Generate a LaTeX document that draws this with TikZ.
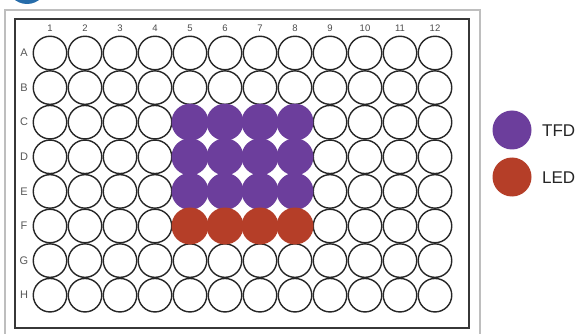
\documentclass[tikz,border=0pt]{standalone}
\usepackage{fontspec}
\setmainfont{Liberation Sans}
\definecolor{tfd}{RGB}{108,62,156}
\definecolor{led}{RGB}{181,62,40}
\definecolor{tabblue}{RGB}{38,108,170}
\definecolor{framegray}{RGB}{190,190,190}
\definecolor{darkframe}{RGB}{55,55,55}
\begin{document}
\begin{tikzpicture}[x=1pt,y=-1pt,
  well/.style={circle,draw=black!85,line width=1.4pt,minimum size=33.5pt,inner sep=0pt},
  tfdwell/.style={circle,fill=tfd,minimum size=37pt,inner sep=0pt},
  ledwell/.style={circle,fill=led,minimum size=37pt,inner sep=0pt},
  clbl/.style={font=\fontsize{9.5}{10}\selectfont,text=black!70,inner sep=0pt},
  rlbl/.style={font=\fontsize{11}{12}\selectfont,text=black!65,inner sep=0pt},
  legtext/.style={font=\fontsize{17}{19}\selectfont,text=black!85,anchor=west,inner sep=0pt}]
\useasboundingbox (0,0) rectangle (581,334);
\fill[white] (0,0) rectangle (581,334);
% tab circle (cut off)
\fill[tabblue] (27,-16) circle (20);
% outer gray frame
\draw[framegray,line width=1.2pt] (5,340) -- (5,10) -- (480,10) -- (480,340);
% inner dark frame
\draw[darkframe,line width=1.8pt] (15,19) rectangle (469,328);
% column labels
\foreach \c in {1,...,12} {
  \node[clbl] (col\c) at ({50+35*(\c-1)},28) {\c};
}
% row labels
\foreach \r/\L in {0/A,1/B,2/C,3/D,4/E,5/F,6/G,7/H} {
  \node[rlbl] (row\L) at (24,{53+34.6*\r}) {\L};
}
% wells
\foreach \r/\L in {0/A,1/B,2/C,3/D,4/E,5/F,6/G,7/H} {
  \foreach \c in {1,...,12} {
    \node[well] (w\L\c) at ({50+35*(\c-1)},{53+34.6*\r}) {};
  }
}
% coloured wells
\foreach \L in {C,D,E} {
  \foreach \c in {5,...,8} {
    \node[tfdwell] (t\L\c) at (w\L\c) {};
  }
}
\foreach \c in {5,...,8} {
  \node[ledwell] (lF\c) at (wF\c) {};
}
% legend
\node[circle,fill=tfd,minimum size=39pt,inner sep=0pt] (legT) at (512,130) {};
\node[circle,fill=led,minimum size=39pt,inner sep=0pt] (legL) at (512,177) {};
\node[legtext] (legTtext) at (542,131) {TFD};
\node[legtext] (legLtext) at (542,178) {LED};
\end{tikzpicture}
\end{document}
